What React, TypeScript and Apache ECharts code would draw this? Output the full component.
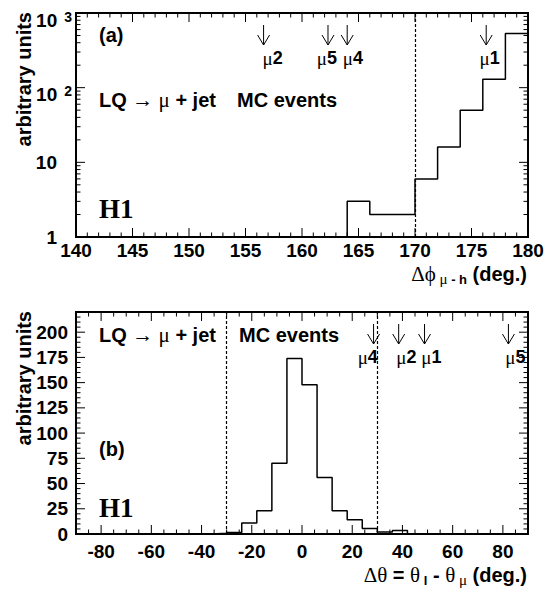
import React, { useEffect, useRef } from 'react';
import * as echarts from 'echarts';

// ---------- data: panel (a) Δφ(μ-h) ----------
const phiBinEdges = [164, 166, 168, 170, 172, 174, 176, 178, 180];
const phiCounts = [3, 2, 2, 6, 16, 50, 130, 530];
const phiCuts = [170];
const phiArrowX = [156.6, 162.3, 164.0, 176.3];
const phiLabelX = [157.4, 162.2, 164.5, 176.6];
const phiArrowIds = ['2', '5', '4', '1'];
const phiMajorX = [140, 145, 150, 155, 160, 165, 170, 175, 180];
const phiMajorY = [1, 10, 100, 1000];

// ---------- data: panel (b) Δθ ----------
const thetaBinEdges = [-36, -30, -24, -18, -12, -6, 0, 6, 12, 18, 24, 30, 36, 42];
const thetaCounts = [0.7, 1.5, 11, 23, 70, 174, 148, 56, 23, 14, 5.5, 2, 3.5];
const thetaCuts = [-30, 30];
const thetaArrowX = [28.5, 38.5, 48.8, 82.2];
const thetaLabelX = [26.2, 41.6, 51.5, 85.0];
const thetaArrowIds = ['4', '2', '1', '5'];
const thetaMajorX = [-80, -60, -40, -20, 0, 20, 40, 60, 80];
const thetaMajorY = [0, 25, 50, 75, 100, 125, 150, 175, 200];

const range = (a: number, b: number, s: number) => {
  const r: number[] = [];
  for (let v = a; v <= b + 1e-9; v += s) r.push(+v.toFixed(6));
  return r;
};
const phiMinorX = range(140, 180, 1).filter((v) => v % 5 !== 0);
const phiMinorY = [1, 10, 100].flatMap((d) => [2, 3, 4, 5, 6, 7, 8, 9].map((k) => k * d));
const thetaMinorX = range(-90, 90, 5).filter((v) => v % 20 !== 0 && Math.abs(v) !== 90);
const thetaMinorY = range(0, 215, 5).filter((v) => v % 25 !== 0);

const SANS = 'Liberation Sans';
const SERIF = 'Liberation Serif';

function stepPoints(edges: number[], counts: number[], base: number) {
  const pts: number[][] = [[edges[0], base]];
  counts.forEach((c, i) => {
    pts.push([edges[i], c]);
    pts.push([edges[i + 1], c]);
  });
  pts.push([edges[edges.length - 1], base]);
  return pts;
}

function tickData(xMaj: number[], xMin: number[], yMaj: number[], yMin: number[], xRef: number, yRef: number) {
  return [
    ...xMaj.map((v) => [v, yRef, 0]),
    ...xMin.map((v) => [v, yRef, 1]),
    ...yMaj.map((v) => [xRef, v, 2]),
    ...yMin.map((v) => [xRef, v, 3]),
  ];
}

const tickRender = (params: any, api: any) => {
  const cs = params.coordSys;
  const kind = api.value(2);
  const p = api.coord([api.value(0), api.value(1)]);
  const len = kind % 2 === 0 ? 9 : 4.5;
  const st = { stroke: '#000', lineWidth: 1 };
  if (kind < 2) {
    const x = p[0];
    return {
      type: 'group',
      children: [
        { type: 'line', shape: { x1: x, y1: cs.y + cs.height, x2: x, y2: cs.y + cs.height - len }, style: st },
        { type: 'line', shape: { x1: x, y1: cs.y, x2: x, y2: cs.y + len }, style: st },
      ],
    };
  }
  const y = p[1];
  return {
    type: 'group',
    children: [
      { type: 'line', shape: { x1: cs.x, y1: y, x2: cs.x + len, y2: y }, style: st },
      { type: 'line', shape: { x1: cs.x + cs.width, y1: y, x2: cs.x + cs.width - len, y2: y }, style: st },
    ],
  };
};

const makeArrowRender = (ids: string[]) => (params: any, api: any) => {
  const cs = params.coordSys;
  const px = api.coord([api.value(0), api.value(1)])[0];
  const lx = api.coord([api.value(2), api.value(1)])[0];
  const id = ids[api.value(3)];
  const y0 = cs.y + 12;
  const y1 = cs.y + 32;
  const st = { stroke: '#000', lineWidth: 1, fill: 'none' };
  return {
    type: 'group',
    children: [
      { type: 'polyline', shape: { points: [[px, y0], [px, y1]] }, style: st },
      { type: 'polyline', shape: { points: [[px - 6, y1 - 10], [px, y1], [px + 6, y1 - 10]] }, style: st },
      {
        type: 'text',
        x: lx,
        y: cs.y + 45,
        style: {
          text: `{m|μ}{d|${id}}`,
          rich: {
            m: { fontFamily: SERIF, fontSize: 19, fill: '#000' },
            d: { fontFamily: SANS, fontWeight: 'bold', fontSize: 18, fill: '#000' },
          },
          fill: '#000',
          align: 'center',
          verticalAlign: 'middle',
          textAlign: 'center',
          textVerticalAlign: 'middle',
        },
      },
    ],
  };
};

const richText: any = {
  b: { fontFamily: SANS, fontWeight: 'bold', fontSize: 20, fill: '#000', lineHeight: 24 },
  g: { fontFamily: SERIF, fontWeight: 'normal', fontSize: 21, fill: '#000', lineHeight: 24 },
  sb: { fontFamily: SANS, fontWeight: 'bold', fontSize: 13, fill: '#000', lineHeight: 13, verticalAlign: 'bottom' },
  sm: { fontFamily: SERIF, fontWeight: 'normal', fontSize: 15, fill: '#000', lineHeight: 13, verticalAlign: 'bottom' },
  h: { fontFamily: SERIF, fontWeight: 'bold', fontSize: 27, fill: '#000' },
};

const txt = (x: number, y: number, text: string, align = 'left', rotation = 0) => ({
  type: 'text',
  x,
  y,
  rotation,
  silent: true,
  style: {
    text,
    rich: richText,
    fill: '#000',
    align,
    verticalAlign: 'middle',
    textAlign: align,
    textVerticalAlign: 'middle',
  },
});

const axisLabelBase = { color: '#000', fontFamily: SANS, fontWeight: 'bold', fontSize: 19 };

export default function App() {
  const ref = useRef<HTMLDivElement>(null);
  useEffect(() => {
    if (!ref.current) return;
    const chart = echarts.init(ref.current, undefined, { renderer: 'svg' });
    const grids = [
      { left: 76, top: 13, width: 452, height: 224 },
      { left: 76, top: 312, width: 452, height: 222 },
    ].map((g) => ({ ...g, show: true, borderColor: '#000', borderWidth: 2, backgroundColor: 'transparent', outerBoundsMode: 'none' }));

    const noAxisDeco = {
      axisLine: { show: false },
      axisTick: { show: false },
      splitLine: { show: false },
      minorTick: { show: false },
      minorSplitLine: { show: false },
    };

    const option: any = {
      animation: false,
      backgroundColor: '#fff',
      grid: grids,
      xAxis: [
        {
          gridIndex: 0,
          type: 'value',
          min: 140,
          max: 180,
          interval: 5,
          ...noAxisDeco,
          axisLabel: { ...axisLabelBase, margin: 4 },
        },
        {
          gridIndex: 1,
          type: 'value',
          min: -90,
          max: 90,
          interval: 10,
          ...noAxisDeco,
          axisLabel: {
            ...axisLabelBase,
            margin: 8,
            formatter: (v: number) => (thetaMajorX.includes(v) ? String(v) : ''),
          },
        },
      ],
      yAxis: [
        {
          gridIndex: 0,
          type: 'log',
          logBase: 10,
          min: 1,
          max: 1000,
          ...noAxisDeco,
          axisLabel: {
            ...axisLabelBase,
            margin: 4,
            formatter: (v: number) =>
              v >= 100 ? `{e|10}{s|${Math.round(Math.log10(v))}}` : `{n|${Math.round(v)}}{sp| }`,
            rich: {
              n: { ...axisLabelBase, lineHeight: 19 },
              sp: { width: 15, fontSize: 13 },
              e: { ...axisLabelBase, lineHeight: 19, padding: [14, 0, 0, 0] },
              s: { ...axisLabelBase, fontSize: 14, lineHeight: 14, padding: [6, 0, 0, 7], verticalAlign: 'top' },
            },
          },
        },
        {
          gridIndex: 1,
          type: 'value',
          min: 0,
          max: 220,
          interval: 25,
          ...noAxisDeco,
          axisLabel: {
            ...axisLabelBase,
            margin: 8,
            formatter: (v: number) => (thetaMajorY.includes(v) ? String(v) : ''),
          },
        },
      ],
      series: [
        {
          type: 'line',
          xAxisIndex: 0,
          yAxisIndex: 0,
          data: stepPoints(phiBinEdges, phiCounts, 1),
          showSymbol: false,
          symbol: 'none',
          lineStyle: { color: '#000', width: 1.5 },
          silent: true,
          markLine: {
            silent: true,
            symbol: ['none', 'none'],
            label: { show: false },
            lineStyle: { color: '#000', width: 1.2, type: [3, 2] },
            data: phiCuts.map((c) => ({ xAxis: c })),
          },
          z: 3,
        },
        {
          type: 'line',
          xAxisIndex: 1,
          yAxisIndex: 1,
          data: stepPoints(thetaBinEdges, thetaCounts, 0),
          showSymbol: false,
          symbol: 'none',
          lineStyle: { color: '#000', width: 1.5 },
          silent: true,
          markLine: {
            silent: true,
            symbol: ['none', 'none'],
            label: { show: false },
            lineStyle: { color: '#000', width: 1.2, type: [3, 2] },
            data: thetaCuts.map((c) => ({ xAxis: c })),
          },
          z: 3,
        },
        {
          type: 'custom',
          xAxisIndex: 0,
          yAxisIndex: 0,
          silent: true,
          clip: false,
          encode: { x: 0, y: 1 },
          data: tickData(phiMajorX, phiMinorX, phiMajorY, phiMinorY, 140, 1),
          renderItem: tickRender,
        },
        {
          type: 'custom',
          xAxisIndex: 1,
          yAxisIndex: 1,
          silent: true,
          clip: false,
          encode: { x: 0, y: 1 },
          data: tickData(thetaMajorX, thetaMinorX, thetaMajorY, thetaMinorY, -90, 0),
          renderItem: tickRender,
        },
        {
          type: 'custom',
          xAxisIndex: 0,
          yAxisIndex: 0,
          silent: true,
          clip: false,
          encode: { x: 0, y: 1 },
          data: phiArrowX.map((x, i) => [x, 100, phiLabelX[i], i]),
          renderItem: makeArrowRender(phiArrowIds),
        },
        {
          type: 'custom',
          xAxisIndex: 1,
          yAxisIndex: 1,
          silent: true,
          clip: false,
          encode: { x: 0, y: 1 },
          data: thetaArrowX.map((x, i) => [x, 100, thetaLabelX[i], i]),
          renderItem: makeArrowRender(thetaArrowIds),
        },
      ],
      graphic: [
        txt(99, 35, '{b|(a)}'),
        txt(99, 100, '{b|LQ }{g|→ μ}{b| + jet}'),
        txt(237, 100, '{b|MC events}'),
        txt(99, 209, '{h|H1}'),
        txt(99, 335, '{b|LQ }{g|→ μ}{b| + jet}'),
        txt(239, 335, '{b|MC events}'),
        txt(99, 449, '{b|(b)}'),
        txt(99, 508, '{h|H1}'),
        txt(24, 12, '{b|arbitrary units}', 'right', Math.PI / 2),
        txt(24, 311, '{b|arbitrary units}', 'right', Math.PI / 2),
        txt(527, 274, '{g|Δϕ}{sm| μ}{sb| - h}{b| (deg.)}', 'right'),
        txt(527, 575, '{g|Δθ}{b| = }{g|θ}{sb| l}{b| - }{g|θ}{sm| μ}{b| (deg.)}', 'right'),
      ],
    };
    chart.setOption(option);
    return () => chart.dispose();
  }, []);
  return (
    <div
      ref={ref}
      style={{ position: 'fixed', left: 0, top: 0, width: 559, height: 591, background: '#fff' }}
    />
  );
}
